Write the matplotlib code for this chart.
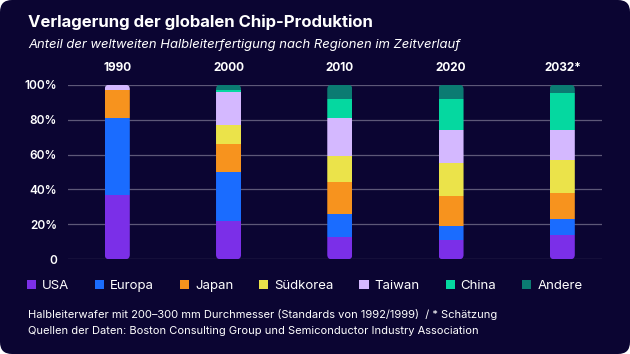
import matplotlib
matplotlib.use("Agg")
import matplotlib.pyplot as plt
from matplotlib.patches import FancyBboxPatch, Patch
import numpy as np

years = ["1990", "2000", "2010", "2020", "2032*"]
regions = ["USA", "Europa", "Japan", "Südkorea", "Taiwan", "China", "Andere"]
usa      = [37, 22, 13, 11, 14]
europa   = [44, 28, 13, 8, 9]
japan    = [16, 16, 18, 17, 15]
suedkorea = [0, 11, 15, 19, 19]
taiwan   = [3, 19, 22, 19, 17]
china    = [0, 1, 11, 18, 21]
andere   = [0, 3, 8, 8, 5]
series = [usa, europa, japan, suedkorea, taiwan, china, andere]
colors = ["#7b2fe8", "#1a6cff", "#f7931e", "#ebe34a", "#d4b8ff", "#05d8a0", "#0b7b72"]
yticks = [0, 20, 40, 60, 80, 100]
ytick_labels = ["0", "20%", "40%", "60%", "80%", "100%"]

BG = "#0b0532"
FONT = ["Inter", "DejaVu Sans"]
plt.rcParams["font.family"] = FONT

W, H = 630, 354
fig = plt.figure(figsize=(W / 100, H / 100), dpi=100, facecolor="white")

# rounded background card
r = 12
bgpatch = FancyBboxPatch((0, 0), 1, 1, boxstyle=f"round,pad=0,rounding_size={r / W}",
                         mutation_aspect=W / H, transform=fig.transFigure,
                         facecolor=BG, edgecolor="none", zorder=-10)
fig.patches.append(bgpatch)

left_px, right_px, top_px, bot_px = 68, 602, 84.7, 259.3
ax = fig.add_axes([left_px / W, 1 - bot_px / H, (right_px - left_px) / W, (bot_px - top_px) / H])
ax.set_facecolor("none")
for s in ax.spines.values():
    s.set_visible(False)

x = np.arange(len(years))
xlim = (-0.443, 4.357)
ax.set_xlim(*xlim)
ax.set_ylim(0, 100)

for yv in yticks:
    ax.axhline(yv, color="#5d5878", lw=0.9, zorder=0)

bw = 0.225
px_per_x = (right_px - left_px) / (xlim[1] - xlim[0])
px_per_y = (bot_px - top_px) / 100
rad_px = 4.5
for i in range(len(years)):
    total = sum(s[i] for s in series)
    clip = FancyBboxPatch((x[i] - bw / 2, 0), bw, total,
                          boxstyle=f"round,pad=0,rounding_size={rad_px / px_per_x}",
                          mutation_aspect=px_per_x / px_per_y,
                          transform=ax.transData, facecolor="none", edgecolor="none")
    ax.add_patch(clip)
    bottom = 0
    for s, c in zip(series, colors):
        if s[i] > 0:
            bars = ax.bar(x[i], s[i], bw, bottom=bottom, color=c, lw=0, zorder=2)
            for b in bars:
                b.set_clip_path(clip)
        bottom += s[i]

ax.set_yticks(yticks)
ax.set_yticklabels(ytick_labels, color="white", fontsize=8.5, fontweight="semibold")
ax.tick_params(axis="y", length=0, pad=8)
ax.xaxis.set_ticks_position("top")
ax.set_xticks(x)
ax.set_xticklabels(years, color="white", fontsize=8.5, fontweight="bold")
ax.tick_params(axis="x", length=0, pad=8)

fig.text(28 / W, 1 - 22 / H, "Verlagerung der globalen Chip-Produktion", color="white",
         fontsize=12, fontweight="bold", va="center", ha="left")
fig.text(28 / W, 1 - 45 / H, "Anteil der weltweiten Halbleiterfertigung nach Regionen im Zeitverlauf",
         color="white", fontsize=9.4, fontstyle="italic", va="center", ha="left")

handles = [Patch(facecolor=c, edgecolor="none") for c in colors]
leg = fig.legend(handles, regions, loc="center left", bbox_to_anchor=(27 / W, 1 - 286 / H),
                 ncol=7, frameon=False, fontsize=9.5, handlelength=0.7, handleheight=0.7,
                 handletextpad=0.45, columnspacing=1.95, borderaxespad=0, borderpad=0)
for t in leg.get_texts():
    t.set_color("white")

fig.text(28 / W, 1 - 315 / H,
         "Halbleiterwafer mit 200–300 mm Durchmesser (Standards von 1992/1999)  / * Schätzung",
         color="white", fontsize=8, va="center", ha="left")
fig.text(28 / W, 1 - 331 / H,
         "Quellen der Daten: Boston Consulting Group und Semiconductor Industry Association",
         color="white", fontsize=8, va="center", ha="left")

fig.savefig("out.png", dpi=100, facecolor="white")
